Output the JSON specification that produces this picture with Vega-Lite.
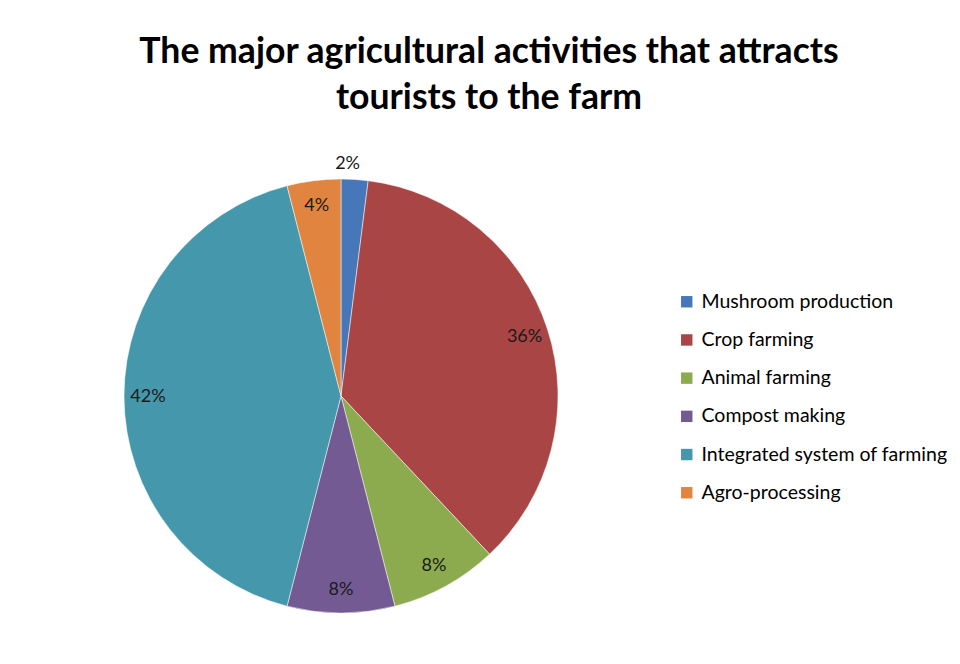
{
  "$schema": "https://vega.github.io/schema/vega-lite/v6.json",
  "autosize": "none",
  "width": 434,
  "height": 434,
  "padding": {"left": 124, "top": 179, "right": 402, "bottom": 51},
  "background": "white",
  "title": {
    "text": ["The major agricultural activities that attracts", "tourists to the farm"],
    "font": "Lato",
    "fontSize": 35.6,
    "fontWeight": "bold",
    "color": "#000000",
    "lineHeight": 46,
    "anchor": "middle",
    "dx": 148,
    "offset": 39
  },
  "data": {
    "values": [
      {"activity": "Mushroom production", "share": 0.02},
      {"activity": "Crop farming", "share": 0.36},
      {"activity": "Animal farming", "share": 0.08},
      {"activity": "Compost making", "share": 0.08},
      {"activity": "Integrated system of farming", "share": 0.42},
      {"activity": "Agro-processing", "share": 0.04}
    ]
  },
  "transform": [{"window": [{"op": "row_number", "as": "idx"}]}],
  "encoding": {
    "theta": {"field": "share", "type": "quantitative", "stack": true},
    "order": {"field": "idx", "type": "quantitative", "sort": "ascending"},
    "color": {
      "field": "activity",
      "type": "nominal",
      "sort": ["Mushroom production", "Crop farming", "Animal farming", "Compost making", "Integrated system of farming", "Agro-processing"],
      "scale": {
        "domain": ["Mushroom production", "Crop farming", "Animal farming", "Compost making", "Integrated system of farming", "Agro-processing"],
        "range": ["#4677b8", "#a94545", "#8cab4f", "#745a93", "#4597ac", "#e0843f"]
      },
      "legend": {
        "title": null,
        "orient": "none",
        "legendX": 553,
        "legendY": 113,
        "symbolType": "square",
        "symbolSize": 130,
        "symbolStrokeWidth": 0,
        "labelFont": "Lato",
        "labelFontSize": 19.5,
        "labelColor": "#000000",
        "labelOffset": 5,
        "rowPadding": 17.2,
        "padding": 0,
        "labelLimit": 400
      }
    }
  },
  "layer": [
    {
      "mark": {"type": "arc", "stroke": "#ffffff", "strokeWidth": 0.5}
    },
    {
      "mark": {"type": "text", "radius": 193, "dy": 1, "font": "Lato", "fontSize": 18, "fill": "#1a1a1a"},
      "encoding": {
        "text": {
          "condition": {"test": "datum.share < 0.04", "value": ""},
          "field": "share", "type": "quantitative", "format": ".0%"
        },
        "color": {"value": "#1a1a1a"}
      }
    },
    {
      "mark": {"type": "text", "radius": 232, "dx": -8, "font": "Lato", "fontSize": 18, "fill": "#1a1a1a"},
      "encoding": {
        "text": {
          "condition": {"test": "datum.share >= 0.04", "value": ""},
          "field": "share", "type": "quantitative", "format": ".0%"
        },
        "color": {"value": "#1a1a1a"}
      }
    }
  ],
  "config": {"view": {"stroke": null}}
}
